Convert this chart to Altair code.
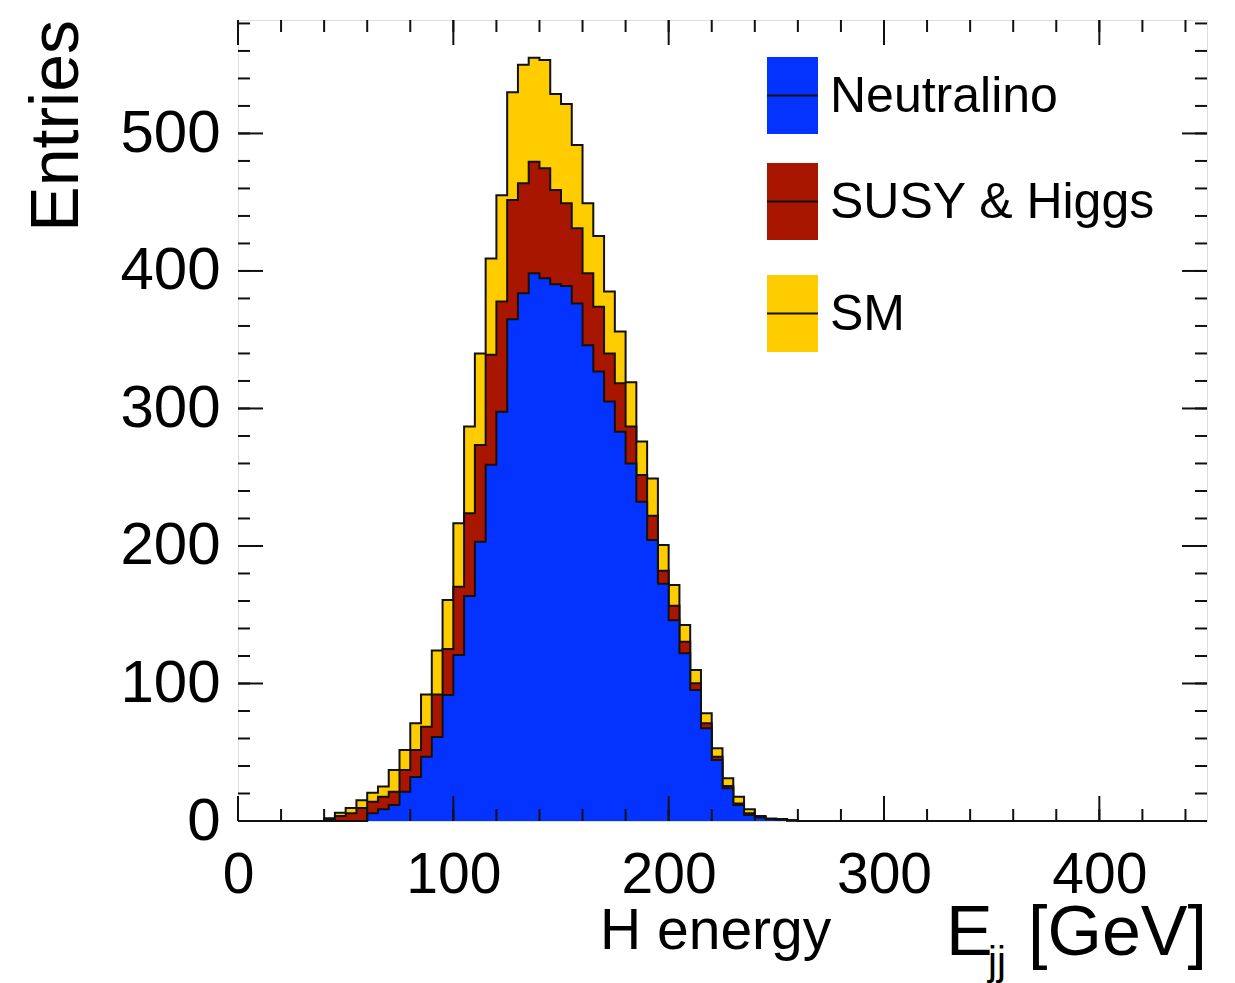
import altair as alt
import pandas as pd

# ---------------- data ----------------
BIN_WIDTH = 5          # GeV
X_MAX = 450
FIRST_BIN = 40         # left edge of first non-empty bin
# per-series contributions per 5 GeV bin, starting at 40 GeV
neutralino = [0, 0, 0, 0, 5.6, 8.5, 11.6, 21.3, 32, 46.8, 61, 91.6, 120.7, 163.6,
              203, 259, 297.7, 364.8, 383.8, 398.3, 394.7, 390.3, 389, 376.4, 346,
              326.8, 305, 283, 260, 232.2, 204.4, 172.5, 146, 122, 95.3, 67.4, 44.4,
              23.8, 11.6, 4.4, 2.5, 1.2, 1.0, 0.3]
susy_higgs = [1, 3.6, 5.6, 9.5, 8.4, 9.2, 9.7, 15.7, 19.6, 21.8, 31, 33.4, 49.7, 60.2,
              70.5, 80, 80, 86.8, 80, 81.2, 80, 68.6, 60.2, 54.6, 52.3,
              47.2, 35, 35.3, 26.8, 19.4, 17.6, 9.5, 10.5, 8.4, 4.8, 3.6, 2.4,
              1.7, 1.2, 1.2, 0.5, 0.3, 0.2, 0.1]
sm = [1, 2.4, 3.9, 5.5, 6.6, 7.3, 15.7, 14.6, 19.4, 23.4, 32, 35.7, 46.1, 63,
      66.5, 70, 77.3, 78.4, 86.2, 75.5, 78.8, 69.8, 72.3, 60.6, 50.9,
      51.5, 45, 37.7, 32.2, 24.4, 27, 18.7, 15.1, 12.1, 9.7, 7.3, 6.1,
      5.5, 4.9, 2.9, 0.6, 0.4, 0.3, 0.1]

series_names = ["Neutralino", "SUSY & Higgs", "SM"]
series_colors = ["#0433ff", "#a81600", "#ffcc00"]

x_major = [0, 100, 200, 300, 400]
x_minor = list(range(0, 450, 20))
y_major = [0, 100, 200, 300, 400, 500]
y_minor = list(range(0, 581, 20))
Y_MAX = 582.5

# ---------------- build histogram table ----------------
n_bins = X_MAX // BIN_WIDTH
first = FIRST_BIN // BIN_WIDTH
rows = []
for k in range(n_bins + 1):
    i = k - first
    if 0 <= i < len(neutralino) and k < n_bins:
        b, r, s = neutralino[i], susy_higgs[i], sm[i]
    else:
        b, r, s = 0.0, 0.0, 0.0
    rows.append({"x": k * BIN_WIDTH, "blue": b, "red": b + r, "total": b + r + s})
hist = pd.DataFrame(rows)

W, H = 969, 801
FONT = "Liberation Sans, Arial, Helvetica, sans-serif"

xscale = alt.Scale(domain=[0, X_MAX], nice=False, zero=False)
yscale = alt.Scale(domain=[0, Y_MAX], nice=False)

xaxis = alt.Axis(values=x_major, title=None, domain=False, ticks=False, tickSize=0,
                 grid=False, labelFontSize=57, labelFont=FONT, labelColor="black",
                 labelPadding=26, labelFlush=False)
yaxis = alt.Axis(values=y_major, title=None, domain=False, ticks=False, tickSize=0,
                 grid=False, labelFontSize=60, labelFont=FONT, labelColor="black",
                 labelPadding=18, labelFlush=False)


def X(field):
    return alt.X(field, scale=xscale, axis=xaxis)


def Y(field):
    return alt.Y(field, scale=yscale, axis=yaxis, stack=None)


base = alt.Chart(hist)


def level(field, color):
    area = base.mark_area(interpolate="step-after", color=color, opacity=1).encode(
        x=X("x:Q"), y=Y(f"{field}:Q"))
    line = base.mark_line(interpolate="step-after", color="#111111", strokeWidth=2).encode(
        x=X("x:Q"), y=Y(f"{field}:Q"))
    return [area, line]


layers = []
layers += level("total", series_colors[2])
layers += level("red", series_colors[1])
layers += level("blue", series_colors[0])

# ---------------- ticks on all four sides ----------------
MAJ, MIN = 25, 12


def xticks(vals, length):
    d = alt.Chart(pd.DataFrame({"v": vals}))
    bot = d.mark_rule(color="#111111", strokeWidth=2).encode(
        x=X("v:Q"), y=alt.value(H), y2=alt.value(H - length))
    top = d.mark_rule(color="#111111", strokeWidth=2).encode(
        x=X("v:Q"), y=alt.value(0), y2=alt.value(length))
    return [bot, top]


def yticks(vals, length):
    d = alt.Chart(pd.DataFrame({"v": vals}))
    left = d.mark_rule(color="#111111", strokeWidth=2).encode(
        y=Y("v:Q"), x=alt.value(0), x2=alt.value(length))
    right = d.mark_rule(color="#111111", strokeWidth=2).encode(
        y=Y("v:Q"), x=alt.value(W), x2=alt.value(W - length))
    return [left, right]


layers += xticks(x_minor, MIN) + xticks(x_major, MAJ)
layers += yticks(y_minor, MIN) + yticks(y_major, MAJ)

# ---------------- legend (drawn inside the frame) ----------------
leg_tops = [37, 143, 255]
leg_h = 77
for name, color, top in zip(series_names, series_colors, leg_tops):
    one = alt.Chart(pd.DataFrame({"t": [name]}))
    layers.append(one.mark_rect(color=color).encode(
        x=alt.value(529), x2=alt.value(580), y=alt.value(top), y2=alt.value(top + leg_h)))
    layers.append(one.mark_rule(color="#111111", strokeWidth=2).encode(
        x=alt.value(529), x2=alt.value(580), y=alt.value(top + leg_h / 2)))
    layers.append(one.mark_text(align="left", baseline="middle", fontSize=50, font=FONT,
                                color="black").encode(
        text="t:N", x=alt.value(592), y=alt.value(top + leg_h / 2 + 1)))

# ---------------- titles ----------------
def label(text, x, y, size, align="left", angle=0, baseline="alphabetic"):
    return alt.Chart(pd.DataFrame({"t": [text]})).mark_text(
        align=align, baseline=baseline, fontSize=size, font=FONT, color="black",
        angle=angle).encode(text="t:N", x=alt.value(x), y=alt.value(y))


layers.append(label("Entries", -160, 0, 68, align="right", angle=270))
layers.append(label("H energy", 362, 929, 57))
layers.append(label("E", 708, 935, 70))
layers.append(label("jj", 750, 955, 40))
layers.append(label("[GeV]", 969, 935, 70, align="right"))

chart = alt.layer(*layers).properties(
    width=W, height=H,
    autosize=alt.AutoSizeParams(type="none"),
    padding={"left": 238, "top": 20, "right": 28, "bottom": 162},
).configure_view(stroke="#111111", strokeWidth=2.5).configure(background="white")

chart.save("out.html", embed_options={"renderer": "svg", "actions": False})
